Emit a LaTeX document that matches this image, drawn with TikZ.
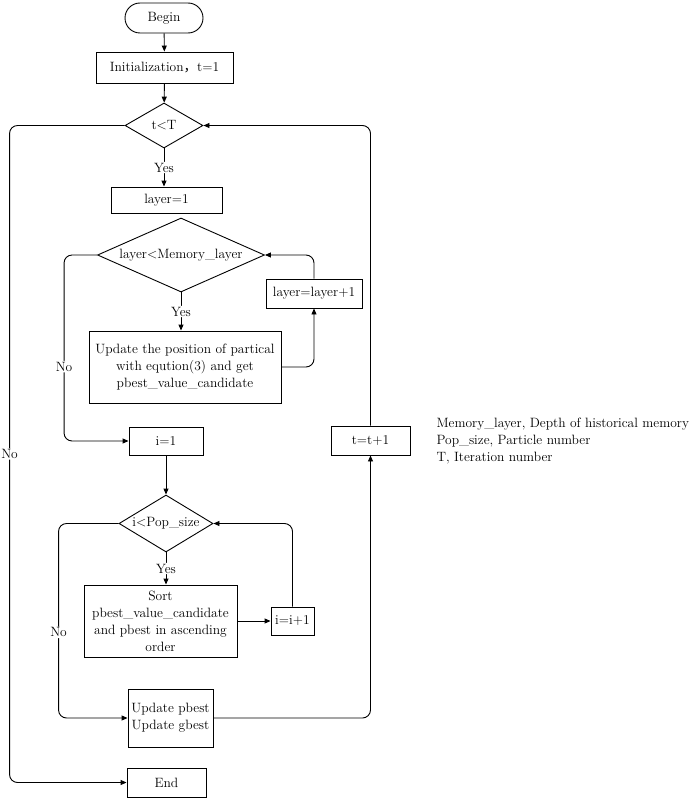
\documentclass[tikz,border=0pt]{standalone}
\usepackage{fontspec}
\newfontfamily\cjk{Noto Sans CJK SC}
\usepackage{tikz}
\usetikzlibrary{positioning,arrows.meta,calc,shapes.geometric}

\begin{document}
\begin{tikzpicture}[
  x=1pt,
  y=-1pt,
  every node/.style={font=\fontsize{13.5}{17}\selectfont},
  stepbox/.style={draw, line width=0.9pt, align=center, inner sep=2pt},
  termbox/.style={draw, line width=0.9pt, rounded corners=15pt, align=center, inner sep=2pt},
  decide/.style={draw, diamond, line width=0.9pt, align=center, inner sep=0pt},
  arrow/.style={-{Triangle[length=6pt,width=5pt]}, line width=0.9pt, rounded corners=8pt},
  lbl/.style={fill=white, inner sep=1pt}
]
\useasboundingbox (0,0) rectangle (699,800);

\node[termbox, minimum width=78pt, minimum height=30pt] (begin) at (164,18) {Begin};
\node[stepbox, minimum width=137pt, minimum height=31pt] (init) at (164.5,67.5) {Initialization{\cjk ，}t=1};
\node[decide, aspect=1.73, minimum width=78pt, minimum height=45pt] (tcheck) at (164,125.5) {t<T};
\node[stepbox, minimum width=111pt, minimum height=26pt] (layerone) at (166.5,200) {layer=1};
\node[decide, aspect=2.26, minimum width=167pt, minimum height=74pt] (memcheck) at (181,255) {layer<Memory\_layer};
\node[stepbox, minimum width=96pt, minimum height=29pt] (layerinc) at (314,293.5) {layer=layer+1};
\node[stepbox, minimum width=192pt, minimum height=72pt] (update) at (185,367) {Update the position of partical\\with eqution(3) and get\\pbest\_value\_candidate};
\node[stepbox, minimum width=74pt, minimum height=28pt] (ione) at (166,441) {i=1};
\node[stepbox, minimum width=79pt, minimum height=29pt] (tinc) at (370.5,440.5) {t=t+1};
\node[decide, aspect=1.65, minimum width=94pt, minimum height=57pt] (popcheck) at (166,523.5) {i<Pop\_size};
\node[stepbox, minimum width=153pt, minimum height=72pt] (sortbox) at (160.5,621) {Sort\\pbest\_value\_candidate\\and pbest in ascending\\order};
\node[stepbox, minimum width=43pt, minimum height=28pt] (iinc) at (292.5,621) {i=i+1};
\node[stepbox, minimum width=85pt, minimum height=58pt] (updbest) at (170.5,718) {Update pbest\\Update gbest};
\node[stepbox, minimum width=79pt, minimum height=29pt] (endbox) at (166.5,782.5) {End};

\node[align=left, anchor=west] (legend) at (433,441) {Memory\_layer, Depth of historical memory\\Pop\_size, Particle number\\T, Iteration number};

\draw[arrow] (begin) -- (init);
\draw[arrow] (init) -- (tcheck);
\draw[arrow] (tcheck.south) -- node[lbl]{Yes} (tcheck.south |- layerone.north);
\draw[arrow] (memcheck.south) -- node[lbl]{Yes} (memcheck.south |- update.north);
\draw[arrow] (update.east) -| (layerinc.south);
\draw[arrow] (layerinc.north) |- (memcheck.east);
\draw[arrow] (memcheck.west) -- ++(-33,0) |- node[lbl, pos=0.3]{No} (ione.west);
\draw[arrow] (ione) -- (popcheck);
\draw[arrow] (popcheck.south) -- node[lbl]{Yes} (popcheck.south |- sortbox.north);
\draw[arrow] (sortbox) -- (iinc);
\draw[arrow] (iinc.north) |- (popcheck.east);
\draw[arrow] (popcheck.west) -- ++(-60,0) |- node[lbl, pos=0.28]{No} (updbest.west);
\draw[arrow] (updbest.east) -| (tinc.south);
\draw[arrow] (tinc.north) |- (tcheck.east);
\draw[arrow] (tcheck.west) -- ++(-115,0) |- node[lbl, pos=0.25]{No} (endbox.west);
\end{tikzpicture}
\end{document}
